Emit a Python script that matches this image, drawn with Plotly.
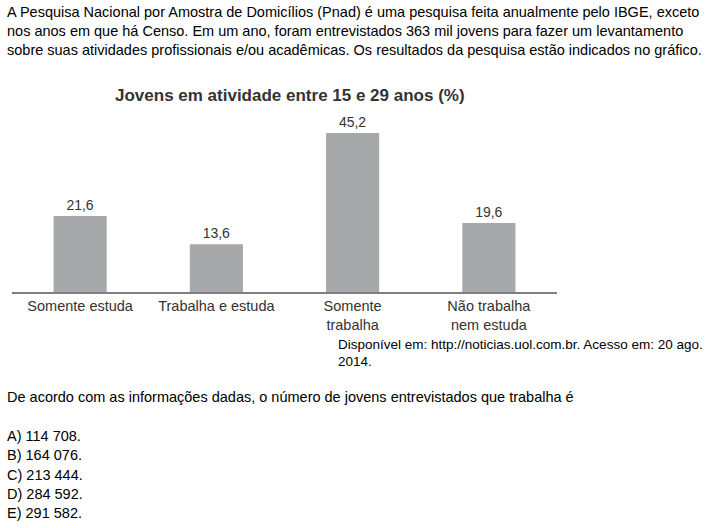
import plotly.graph_objects as go

categorias = ["Somente estuda", "Trabalha e estuda", "Somente<br>trabalha", "Não trabalha<br>nem estuda"]
percentuais = [21.6, 13.6, 45.2, 19.6]

titulo = "<b>Jovens em atividade entre 15 e 29 anos (%)</b>"
enunciado = [
    "A Pesquisa Nacional por Amostra de Domicílios (Pnad) é uma pesquisa feita anualmente pelo IBGE, exceto",
    "nos anos em que há Censo. Em um ano, foram entrevistados 363 mil jovens para fazer um levantamento",
    "sobre suas atividades profissionais e/ou acadêmicas. Os resultados da pesquisa estão indicados no gráfico.",
]
fonte = ["Disponível em: http://noticias.uol.com.br. Acesso em: 20 ago.", "2014."]
pergunta = "De acordo com as informações dadas, o número de jovens entrevistados que trabalha é"
alternativas = ["A) 114 708.", "B) 164 076.", "C) 213 444.", "D) 284 592.", "E) 291 582."]

FONT = "Liberation Sans, Arial, sans-serif"
W, H = 720, 528

def py(px):
    # pixel from top -> paper fraction
    return 1 - px / H

fig = go.Figure()
fig.add_trace(go.Bar(
    x=categorias, y=percentuais,
    marker=dict(color="#a6a8aa", line=dict(width=0)),
    texttemplate="%{y:.1f}", textposition="outside",
    textfont=dict(size=14, color="#333333", family=FONT),
    cliponaxis=False, width=0.39,
))

anns = []
anns.append(dict(text=titulo, x=290 / W, y=py(95), xref="paper", yref="paper",
                 showarrow=False, xanchor="center", yanchor="middle",
                 font=dict(size=17, color="#333333", family=FONT)))
for i, linha in enumerate(enunciado):
    anns.append(dict(text=linha, x=5 / W, y=py(12 + i * 19), xref="paper", yref="paper",
                     showarrow=False, xanchor="left", yanchor="middle",
                     font=dict(size=14.5, color="#000000", family=FONT)))
for i, linha in enumerate(fonte):
    anns.append(dict(text=linha, x=336 / W, y=py(344 + i * 17), xref="paper", yref="paper",
                     showarrow=False, xanchor="left", yanchor="middle",
                     font=dict(size=13.5, color="#000000", family=FONT)))
anns.append(dict(text=pergunta, x=5 / W, y=py(397), xref="paper", yref="paper",
                 showarrow=False, xanchor="left", yanchor="middle",
                 font=dict(size=14.5, color="#000000", family=FONT)))
for i, alt in enumerate(alternativas):
    anns.append(dict(text=alt, x=5 / W, y=py(436 + i * 19.3), xref="paper", yref="paper",
                     showarrow=False, xanchor="left", yanchor="middle",
                     font=dict(size=14.5, color="#000000", family=FONT)))

fig.update_layout(
    width=W, height=H,
    margin=dict(l=0, r=0, t=0, b=0),
    paper_bgcolor="white", plot_bgcolor="white",
    separators=",.",
    showlegend=False,
    annotations=anns,
    xaxis=dict(domain=[12 / W, 557 / W], range=[-0.5, 3.5], showline=True,
               linecolor="#808080", linewidth=1.5, ticks="", showgrid=False,
               tickfont=dict(size=14.5, color="#333333", family=FONT)),
    yaxis=dict(domain=[py(292), py(116)], range=[0, 50], visible=False),
)

fig.write_html("out.html", config={"displayModeBar": False},
               post_script="document.body.style.margin='0';")
